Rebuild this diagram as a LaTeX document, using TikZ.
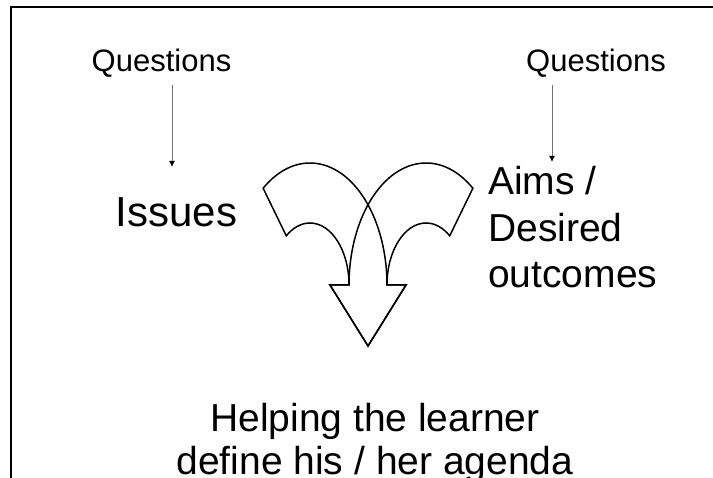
\documentclass[tikz,border=0pt]{standalone}
\usepackage{fontspec}
\setmainfont{Liberation Sans}
\usetikzlibrary{arrows.meta,calc}
\begin{document}
\begin{tikzpicture}[x=1pt,y=-1pt,
  label31/.style={inner sep=0pt,font=\fontsize{31}{37}\selectfont},
  label39/.style={inner sep=0pt,font=\fontsize{39}{46.5}\selectfont},
  label42/.style={inner sep=0pt,font=\fontsize{42}{50}\selectfont},
  qarrow/.style={draw=black!55,line width=1pt,-{Latex[color=black,length=6pt,width=6pt]}},
  bigarrow/.style={draw=black,line width=1.5pt,line join=miter},
  frameline/.style={draw=black,line width=2pt}]
  \useasboundingbox (0,0) rectangle (713,478);

  % open frame: top and left edges
  \draw[frameline] (713,7) -- (11,7) -- (11,478);

  % labels (base anchor of a multi-line node sits on its last line)
  \node[label31,anchor=base] (q1) at (161.5,72) {Questions};
  \node[label31,anchor=base] (q2) at (596,72) {Questions};
  \node[label42,anchor=base] (issues) at (176.5,227) {Issues};
  \node[label39,anchor=base west,align=left] (aims) at (488,288) {Aims /\\Desired\\outcomes};
  \node[label39,anchor=base,align=center,font=\fontsize{39}{43}\selectfont] (agenda) at (375,475) {Helping the learner\\define his / her agenda};

  % question arrows
  \coordinate (q1end) at (172,167);
  \coordinate (q2end) at (552,162);
  \draw[qarrow] ($(q1end |- q1.south)+(0,7)$) -- (q1end);
  \draw[qarrow] ($(q2end |- q2.south)+(0,7)$) -- (q2end);

  % two curved arrows merging into one head
  \coordinate (lc) at (310,285);
  \coordinate (rc) at (426,285);
  \draw[bigarrow] ($(lc)+(-127.5:39 and 62)$) -- ($(lc)+(-127.5:77 and 122)$)
    arc[start angle=-127.5,end angle=0,x radius=77,y radius=122]
    -- (406,285) -- (368,346) -- (330,285) -- (349,285)
    arc[start angle=0,end angle=-127.5,x radius=39,y radius=62] -- cycle;
  \draw[bigarrow] ($(rc)+(-52.5:39 and 62)$) -- ($(rc)+(-52.5:77 and 122)$)
    arc[start angle=-52.5,end angle=-180,x radius=77,y radius=122]
    -- (330,285) -- (368,346) -- (406,285) -- (387,285)
    arc[start angle=-180,end angle=-52.5,x radius=39,y radius=62] -- cycle;
\end{tikzpicture}
\end{document}
